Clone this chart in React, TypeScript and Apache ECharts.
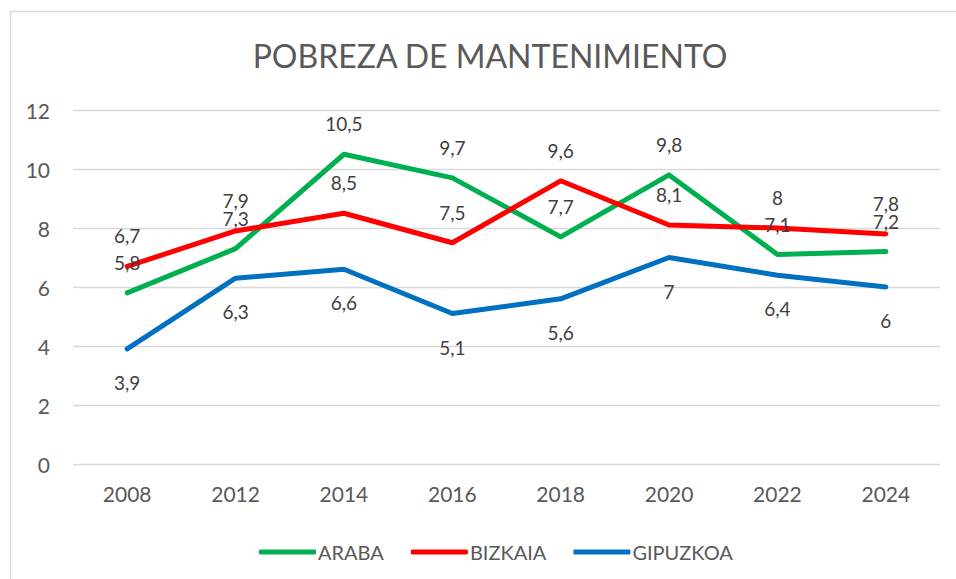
import React, { useEffect, useRef } from "react";
import * as echarts from "echarts";

const years = ["2008", "2012", "2014", "2016", "2018", "2020", "2022", "2024"];
const araba = [5.8, 7.3, 10.5, 9.7, 7.7, 9.8, 7.1, 7.2];
const bizkaia = [6.7, 7.9, 8.5, 7.5, 9.6, 8.1, 8, 7.8];
const gipuzkoa = [3.9, 6.3, 6.6, 5.1, 5.6, 7, 6.4, 6];
const titleText = "POBREZA DE MANTENIMIENTO";

const FONT = "Lato, 'Open Sans', sans-serif";

export default function App() {
  const ref = useRef<HTMLDivElement>(null);
  useEffect(() => {
    document.body.style.margin = "0";
    const chart = echarts.init(ref.current!, null, { renderer: "svg" });
    const fmt = (p: any) => String(p.value).replace(".", ",");
    const mk = (name: string, data: number[], color: string, pos: "top" | "bottom", dist: number) => ({
      name,
      type: "line",
      data,
      symbol: "circle",
      symbolSize: 0.01,
      showSymbol: true,
      smooth: false,
      lineStyle: { color, width: 5, cap: "round", join: "round" },
      itemStyle: { color },
      label: {
        show: true,
        position: pos,
        distance: dist,
        formatter: fmt,
        color: "#404040",
        fontSize: 19,
        fontFamily: FONT,
      },
      labelLayout: { hideOverlap: false },
    });
    chart.setOption({
      animation: false,
      backgroundColor: "#ffffff",
      graphic: [
        {
          type: "rect",
          shape: { x: 10.5, y: 11.5, width: 960, height: 600 },
          style: { fill: "none", stroke: "#d9d9d9", lineWidth: 1.5 },
          silent: true,
        },
        {
          type: "text",
          x: 490,
          y: 55,
          style: {
            text: titleText,
            fill: "#595959",
            fontSize: 32,
            fontFamily: FONT,
            textAlign: "center",
            textVerticalAlign: "middle",
          },
        },
      ],
      grid: { left: 73, right: 16, top: 110, bottom: 115, containLabel: false },
      xAxis: {
        type: "category",
        data: years,
        boundaryGap: true,
        axisLine: { show: false },
        axisTick: { show: false },
        axisLabel: { color: "#595959", fontSize: 21, fontFamily: FONT, margin: 19 },
      },
      yAxis: {
        type: "value",
        min: 0,
        max: 12,
        interval: 2,
        axisLine: { show: false },
        axisTick: { show: false },
        axisLabel: { color: "#595959", fontSize: 21, fontFamily: FONT, margin: 23 },
        splitLine: { lineStyle: { color: "#d9d9d9", width: 1.3 } },
      },
      legend: {
        left: 254,
        top: 537,
        icon: "roundRect",
        itemWidth: 57,
        itemHeight: 5,
        itemGap: 27,
        textStyle: { color: "#595959", fontSize: 20, fontFamily: FONT, padding: [0, 0, 0, -3] },
        data: ["ARABA", "BIZKAIA", "GIPUZKOA"],
      },
      series: [
        mk("ARABA", araba, "#00B050", "top", 21),
        mk("BIZKAIA", bizkaia, "#FF0000", "top", 21),
        mk("GIPUZKOA", gipuzkoa, "#0070C0", "bottom", 24),
      ],
    });
    return () => chart.dispose();
  }, []);
  return (
    <div
      ref={ref}
      style={{ position: "absolute", left: 0, top: 0, width: 956, height: 579 }}
    />
  );
}
